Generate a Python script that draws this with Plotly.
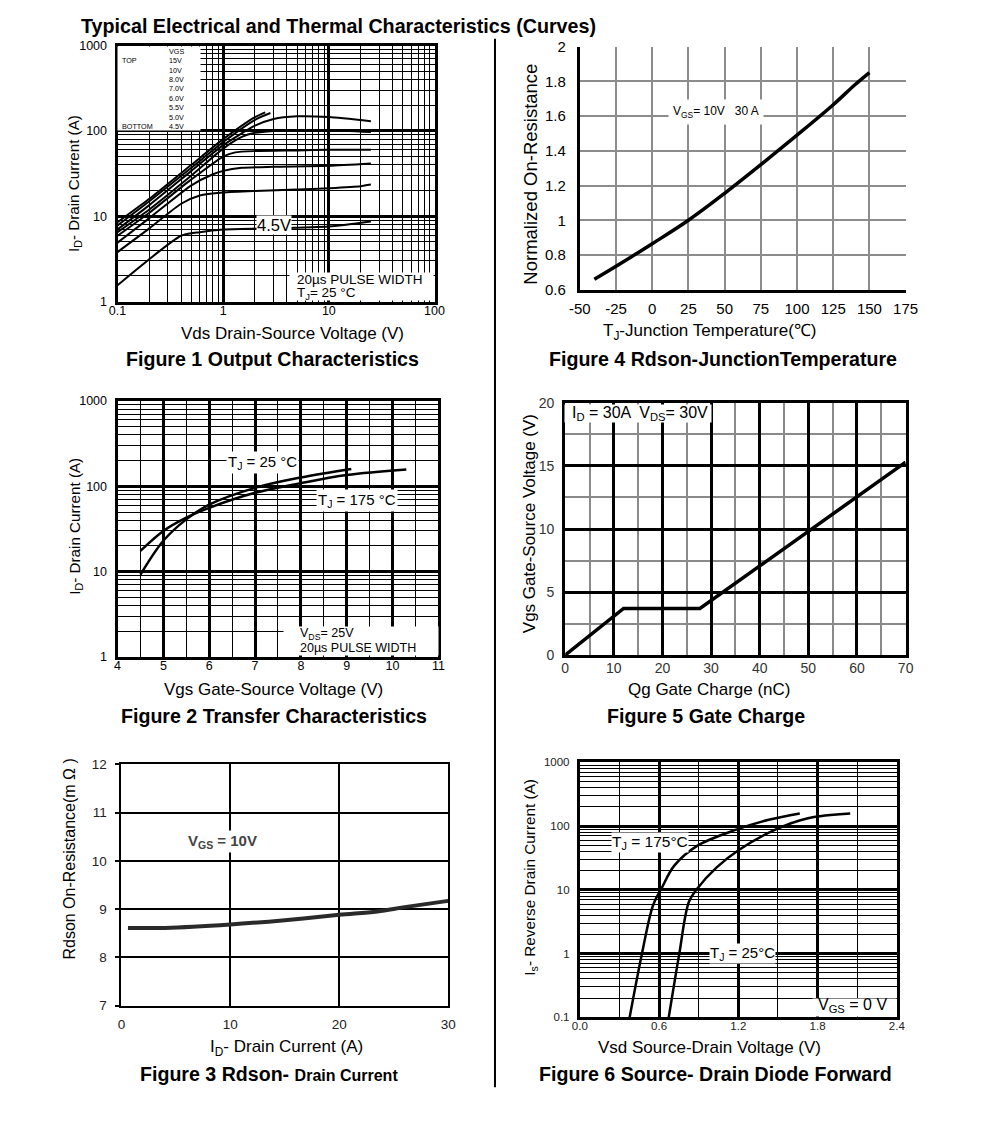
import plotly.graph_objects as go

# the page is displayed with the browser's default 8px body margin
OFF = 8
W, H = 991 - 2 * OFF, 1122 - 2 * OFF
FONT = "Liberation Sans, Arial, sans-serif"

# ---------------- Figure 1: Output characteristics ----------------
f1_vgs_labels = ["15V", "10V", "8.0V", "7.0V", "6.0V", "5.5V", "5.0V", "4.5V"]
f1_vds_15v = [0.1, 0.2, 0.5, 1.0, 2.0, 2.5]
f1_id_15v = [8.5, 16, 40, 80, 145, 165]
f1_vds_10v = [0.1, 0.2, 0.5, 1.0, 2.0, 2.8]
f1_id_10v = [7.8, 15, 37, 74, 135, 162]
f1_vds_8v = [0.1, 0.2, 0.5, 1.0, 2.0, 3.0, 5.0, 10, 25]
f1_id_8v = [7.0, 13.5, 34, 68, 115, 138, 148, 145, 130]
f1_vds_7v = [0.1, 0.2, 0.5, 1.0, 1.5, 2.0, 3.0, 5.0, 10, 25]
f1_id_7v = [6.5, 12, 30, 62, 85, 95, 100, 102, 102, 97]
f1_vds_6v = [0.1, 0.2, 0.5, 1.0, 1.3, 2.0, 5.0, 10, 25]
f1_id_6v = [5.9, 11, 27, 50, 56, 58, 59, 60, 60]
f1_vds_55v = [0.1, 0.2, 0.5, 0.8, 1.0, 1.5, 3.0, 10, 25]
f1_id_55v = [4.9, 9.5, 23, 31, 34, 37, 38, 39, 41.5]
f1_vds_5v = [0.1, 0.2, 0.4, 0.6, 1.0, 2.0, 5.0, 10, 20, 25]
f1_id_5v = [3.8, 7.2, 14, 17.5, 19, 19.8, 20.5, 21.3, 22.5, 23.5]
f1_vds_45v = [0.1, 0.4, 0.6, 1.0, 2.5, 10, 25]
f1_id_45v = [1.55, 5.9, 6.5, 7.0, 7.2, 7.6, 8.7]
f1_xtick_vals = [0.1, 1, 10, 100]
f1_xtick_text = ["0.1", "1", "10", "100"]
f1_ytick_vals = [1, 10, 100, 1000]
f1_ytick_text = ["1", "10", "100", "1000"]

# ---------------- Figure 4: Rdson vs junction temperature ----------------
f4_tj = [-40, -25, 0, 25, 50, 75, 100, 125, 140, 150]
f4_rnorm = [0.66, 0.735, 0.865, 1.0, 1.155, 1.32, 1.49, 1.665, 1.78, 1.85]
f4_xtick_vals = [-50, -25, 0, 25, 50, 75, 100, 125, 150, 175]
f4_xtick_text = ["-50", "-25", "0", "25", "50", "75", "100", "125", "150", "175"]
f4_ytick_vals = [0.6, 0.8, 1.0, 1.2, 1.4, 1.6, 1.8, 2.0]
f4_ytick_text = ["0.6", "0.8", "1", "1.2", "1.4", "1.6", "1.8", "2"]

# ---------------- Figure 2: Transfer characteristics ----------------
f2_vgs_25c = [4.5, 5.0, 5.5, 6.0, 7.0, 8.0, 9.1]
f2_id_25c = [9.2, 23, 41, 61, 96, 127, 160]
f2_vgs_175c = [4.5, 5.0, 5.5, 6.0, 7.0, 8.0, 9.0, 10.3]
f2_id_175c = [17.5, 30, 43, 56, 84, 109, 136, 158]
f2_xtick_vals = [4, 5, 6, 7, 8, 9, 10, 11]

# ---------------- Figure 5: Gate charge ----------------
f5_qg = [0, 12, 27.7, 70]
f5_vgs = [0, 3.7, 3.7, 15.3]
f5_xtick_vals = [0, 10, 20, 30, 40, 50, 60, 70]
f5_ytick_vals = [0, 5, 10, 15, 20]

# ---------------- Figure 3: Rdson vs drain current ----------------
f3_id = [0.6, 4, 10, 15, 20, 23.5, 26, 30]
f3_rdson = [8.61, 8.61, 8.68, 8.77, 8.88, 8.95, 9.04, 9.17]
f3_xtick_vals = [0, 10, 20, 30]
f3_ytick_vals = [7, 8, 9, 10, 11, 12]

# ---------------- Figure 6: Source-drain diode forward ----------------
f6_vsd_175c = [0.377, 0.469, 0.555, 0.617, 0.715, 0.888, 1.184, 1.43, 1.665]
f6_is_175c = [0.1, 0.97, 5.8, 10.4, 24, 49, 88, 126, 158]
f6_vsd_25c = [0.673, 0.752, 0.826, 0.888, 1.036, 1.209, 1.48, 1.727, 2.047]
f6_is_25c = [0.1, 0.97, 6.5, 10.4, 22.5, 43, 88, 133, 158]
f6_xtick_vals = [0, 0.6, 1.2, 1.8, 2.4]
f6_xtick_text = ["0.0", "0.6", "1.2", "1.8", "2.4"]
f6_ytick_vals = [0.1, 1, 10, 100, 1000]
f6_ytick_text = ["0.1", "1", "10", "100", "1000"]


def px(x):
    return (x - OFF) / W


def py(y):
    return 1 - (y - OFF) / H


def log_minor(lo_exp, hi_exp):
    vals = []
    for e in range(lo_exp, hi_exp):
        for m in range(2, 10):
            vals.append(m * 10 ** e)
    return vals


fig = go.Figure()

f1_series = [
    (f1_vds_15v, f1_id_15v), (f1_vds_10v, f1_id_10v), (f1_vds_8v, f1_id_8v),
    (f1_vds_7v, f1_id_7v), (f1_vds_6v, f1_id_6v), (f1_vds_55v, f1_id_55v),
    (f1_vds_5v, f1_id_5v), (f1_vds_45v, f1_id_45v),
]
for (xs, ys), name in zip(f1_series, f1_vgs_labels):
    fig.add_trace(go.Scatter(x=xs, y=ys, mode="lines", name=name, xaxis="x", yaxis="y",
                             line=dict(color="black", width=2, shape="spline", smoothing=0.6)))

fig.add_trace(go.Scatter(x=f4_tj, y=f4_rnorm, mode="lines", xaxis="x2", yaxis="y2",
                         line=dict(color="black", width=3.5, shape="spline")))

fig.add_trace(go.Scatter(x=f2_vgs_25c, y=f2_id_25c, mode="lines", xaxis="x3", yaxis="y3",
                         line=dict(color="black", width=2.5, shape="spline")))
fig.add_trace(go.Scatter(x=f2_vgs_175c, y=f2_id_175c, mode="lines", xaxis="x3", yaxis="y3",
                         line=dict(color="black", width=2.5, shape="spline")))

fig.add_trace(go.Scatter(x=f5_qg, y=f5_vgs, mode="lines", xaxis="x4", yaxis="y4",
                         line=dict(color="black", width=3.5)))

fig.add_trace(go.Scatter(x=f3_id, y=f3_rdson, mode="lines", xaxis="x5", yaxis="y5",
                         line=dict(color="#2a2a2a", width=4, shape="spline")))

fig.add_trace(go.Scatter(x=f6_vsd_175c, y=f6_is_175c, mode="lines", xaxis="x6", yaxis="y6",
                         line=dict(color="black", width=2.5, shape="spline")))
fig.add_trace(go.Scatter(x=f6_vsd_25c, y=f6_is_25c, mode="lines", xaxis="x6", yaxis="y6",
                         line=dict(color="black", width=2.5, shape="spline")))


def axis(dom, anchor, rng, tickvals, ticktext=None, typ="linear", size=11,
         gridcolor="black", gridwidth=2.5, minor_vals=None, minor_color="black",
         minor_width=0.8, linewidth=3, mirror=True, standoff=4, linecolor="black",
         ticks="", ticklen=0, color="black"):
    d = dict(domain=dom, anchor=anchor, range=rng, type=typ, tickmode="array",
             tickvals=tickvals, showgrid=True, gridcolor=gridcolor, gridwidth=gridwidth,
             zeroline=False, showline=True, linecolor=linecolor, linewidth=linewidth,
             mirror=mirror, ticks=ticks, ticklen=ticklen, tickcolor="black", tickwidth=2,
             tickfont=dict(family=FONT, size=size, color=color),
             ticklabelstandoff=standoff, fixedrange=True)
    if ticktext is not None:
        d["ticktext"] = ticktext
    if minor_vals is not None:
        d["minor"] = dict(tickmode="array", tickvals=minor_vals, showgrid=True,
                          gridcolor=minor_color, gridwidth=minor_width, ticks="")
    return d


layout = dict(
    width=W, height=H, margin=dict(l=0, r=0, t=0, b=0),
    paper_bgcolor="white", plot_bgcolor="white", showlegend=False,
    font=dict(family=FONT, color="black"),
)

# Fig 1
layout["xaxis"] = axis([px(109), px(434)], "y", [-1, 2], f1_xtick_vals, f1_xtick_text, "log",
                       size=12.5, minor_vals=log_minor(-1, 2), standoff=-5)
layout["yaxis"] = axis([py(297), py(37)], "x", [0, 3], f1_ytick_vals, f1_ytick_text, "log",
                       size=12.5, minor_vals=log_minor(0, 3), standoff=5)
# Fig 4
layout["xaxis2"] = axis([px(583), px(917)], "y2", [-50, 175], f4_xtick_vals, f4_xtick_text,
                        size=15, gridcolor="#8c8c8c", gridwidth=2, mirror=False, standoff=3)
layout["yaxis2"] = axis([py(285), py(38)], "x2", [0.6, 2.0], f4_ytick_vals, f4_ytick_text,
                        size=15, gridcolor="#8c8c8c", gridwidth=2, mirror=False, standoff=8)
# Fig 2
layout["xaxis3"] = axis([px(109), px(438)], "y3", [4, 11], f2_xtick_vals, None,
                        size=12.5, minor_vals=[4.5 + i for i in range(7)], standoff=-5)
layout["yaxis3"] = axis([py(658), py(398)], "x3", [0, 3], f1_ytick_vals, f1_ytick_text, "log",
                        size=12.5, minor_vals=log_minor(0, 3), standoff=5)
# Fig 5
layout["xaxis4"] = axis([px(568), px(917)], "y4", [0, 70], f5_xtick_vals, None,
                        size=14, gridwidth=3, minor_vals=[5 + 10 * i for i in range(7)],
                        minor_color="#8a8a8a", minor_width=1.5, standoff=-2, color="#333")
layout["yaxis4"] = axis([py(656), py(400)], "x4", [0, 20], f5_ytick_vals, None,
                        size=14, gridwidth=3, minor_vals=[2.5, 7.5, 12.5, 17.5],
                        minor_color="#8a8a8a", minor_width=1.5, standoff=5, color="#333")
# Fig 3
layout["xaxis5"] = axis([px(113), px(448)], "y5", [0, 30], f3_xtick_vals, None,
                        size=13.5, gridwidth=2, linewidth=2, standoff=5, color="#222")
layout["yaxis5"] = axis([py(1012), py(767)], "x5", [7, 12], f3_ytick_vals, None,
                        size=13.5, gridwidth=2, linewidth=2, standoff=6, ticks="outside",
                        ticklen=4, color="#222")
# Fig 6
layout["xaxis6"] = axis([px(583), px(908)], "y6", [0, 2.4], f6_xtick_vals, f6_xtick_text,
                        size=11.5, minor_vals=[0.3, 0.9, 1.5, 2.1], minor_width=1, standoff=-4,
                        color="#222")
layout["yaxis6"] = axis([py(1024), py(765)], "x6", [-1, 3], f6_ytick_vals, f6_ytick_text, "log",
                        size=11.5, minor_vals=log_minor(-1, 3), minor_width=0.8, standoff=5,
                        color="#222")

fig.update_layout(**layout)

# divider between the two columns
fig.update_layout(shapes=[dict(type="line", xref="paper", yref="paper", x0=px(496), x1=px(496),
                               y0=py(30), y1=py(1095), line=dict(color="black", width=2))])

# ---------- text ----------
anns = []


def wbox(x0, x1, y0, y1):
    """white panel hiding the grid behind a text block (screen px)"""
    anns.append(dict(text=" ", x=px((x0 + x1) / 2), y=py((y0 + y1) / 2), xref="paper",
                     yref="paper", showarrow=False, xanchor="center", yanchor="middle",
                     width=x1 - x0, height=y1 - y0, bgcolor="white", borderpad=0,
                     font=dict(size=1)))


def ann(text, x, y, size, bold=False, xanchor="center", angle=0, bg=None, color="black",
        pad=1, yanchor="middle", align="center"):
    if bold:
        text = f"<b>{text}</b>"
    d = dict(text=text, x=px(x), y=py(y), xref="paper", yref="paper", showarrow=False,
             xanchor=xanchor, yanchor=yanchor, textangle=angle, align=align,
             font=dict(family=FONT, size=size, color=color), borderpad=pad)
    if bg:
        d["bgcolor"] = bg
    anns.append(d)


wbox(111, 193, 39, 122)
wbox(288, 431, 268, 295)
wbox(282, 436, 628, 656)
wbox(570, 716, 402, 419)
wbox(823, 906, 1005, 1022)

ann("Typical Electrical and Thermal Characteristics (Curves)", 70, 17, 19.7, bold=True,
    xanchor="left")

# captions
ann("Figure 1 Output Characteristics", 268, 355, 19.6, bold=True)
ann("Figure 4 Rdson-JunctionTemperature", 730, 355, 19.6, bold=True)
ann("Figure 2 Transfer Characteristics", 269, 718, 19.6, bold=True)
ann("Figure 5 Gate Charge", 712, 718, 19.6, bold=True)
ann("Figure 3 Rdson- <span style='font-size:16px'>Drain Current</span>", 264, 1082, 19.6,
    bold=True)
ann("Figure 6 Source- Drain Diode Forward", 722, 1082, 19.6, bold=True)

# axis titles
ann("Vds Drain-Source Voltage (V)", 288, 329, 17)
ann("I<sub>D</sub>- Drain Current (A)", 65, 177, 15.2, angle=-90)
ann("T<sub>J</sub>-Junction Temperature(℃)", 716, 328, 17)
ann("Normalized On-Resistance", 532, 168, 18.5, angle=-90)
ann("Vgs Gate-Source Voltage (V)", 269, 691, 17)
ann("I<sub>D</sub>- Drain Current (A)", 65, 525, 15.2, angle=-90)
ann("Qg Gate Charge (nC)", 716, 691, 17)
ann("Vgs Gate-Source Voltage (V)", 531, 523, 17, angle=-90)
ann("I<sub>D</sub>- Drain Current (A)", 282, 1055, 17)
ann("Rdson On-Resistance(m Ω )", 60, 863, 16, angle=-90)
ann("Vsd Source-Drain Voltage (V)", 716, 1055, 17)
ann("I<sub>s</sub>- Reverse Drain Current (A)", 532, 882, 15.3, angle=-90)

# figure 1 legend block: two multi-line columns
ann("<br>".join(["VGS"] + f1_vgs_labels), 161, 37, 7.2, xanchor="left", yanchor="top",
    align="left", pad=0)
ann("<br>".join([" ", "TOP", " ", " ", " ", " ", " ", " ", "BOTTOM"]), 113, 37, 7.2,
    xanchor="left", yanchor="top", align="left", pad=0)
ann("4.5V", 269, 219, 16.5, bg="white", pad=0)
ann("20µs PULSE WIDTH", 292, 275, 13.5, xanchor="left", pad=0)
ann("T<sub>J</sub>= 25 °C", 292, 288.5, 13.5, xanchor="left", pad=0)

# figure 4
ann("V<sub>GS</sub>= 10V   30 A", 723, 104, 12, bg="white", pad=4)

# figure 2
ann("T<sub>J</sub> = 25 °C", 258, 460, 15, bg="white", pad=1)
ann("T<sub>J</sub> = 175 °C", 355, 499, 15, bg="white", pad=1)
ann("V<sub>DS</sub>= 25V", 295, 634.5, 12.5, xanchor="left", pad=0)
ann("20µs PULSE WIDTH", 295, 648.5, 12.5, xanchor="left", pad=0)

# figure 5
ann("I<sub>D</sub> = 30A  V<sub>DS</sub>= 30V", 573, 411, 16, xanchor="left")

# figure 3
ann("V<sub>GS</sub> = 10V", 217, 845, 15, bold=True, bg="white", color="#444", pad=1)

# figure 6
ann("T<sub>J</sub> = 175°C", 655, 846, 15.5, bg="white", pad=0)
ann("T<sub>J</sub> = 25°C", 750, 959, 15, bg="white", pad=0)
ann("V<sub>GS</sub> = 0 V", 863, 1012, 16)

fig.update_layout(annotations=anns)

fig.write_html("out.html")
